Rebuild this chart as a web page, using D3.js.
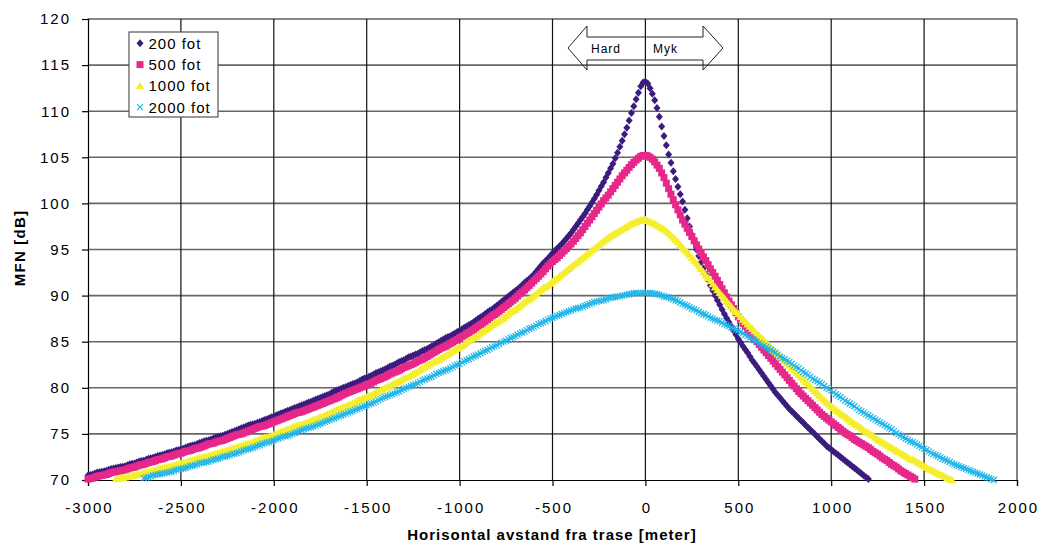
<!DOCTYPE html>
<html lang="no">
<head>
    <meta charset="utf-8">
    <title>MFN mot horisontal avstand fra trase</title>
    <style type="text/css">
        body {
            margin: 0;
            background: #ffffff;
            font-family: 'Liberation Sans', Arial, sans-serif;
        }
        .tick text {
            font-family: 'Liberation Sans', Arial, sans-serif;
            font-size: 15px;
            letter-spacing: 2px;
            fill: #000;
        }
        .axisTitle {
            font-family: 'Liberation Sans', Arial, sans-serif;
            font-weight: bold;
            font-size: 15px;
            fill: #000;
        }
        .legendText {
            font-size: 15px;
            letter-spacing: 1px;
        }
        .arrowText {
            font-size: 12px;
            letter-spacing: 1px;
        }
    </style>
</head>
<body style="width: 1042px; height: 545px;">
<script src="https://d3js.org/d3.v7.min.js"></script>
<script>
    // series names and where each series starts along the x axis (meter), 12.5 m between points
    var seriesNames = ['200 fot', '500 fot', '1000 fot', '2000 fot'];
    var seriesStart = [-3000, -3000, -2850, -2700];
    var stepMeter = 12.5;

    // MFN [dB]
    var mfn200 = [
        70.5, 70.55, 70.6, 70.7, 70.8, 70.85, 70.9, 70.95, 71.0, 71.1, 71.2, 71.25, 71.3, 71.35, 71.4, 71.45, 71.5, 71.6, 71.7, 71.75,
        71.8, 71.9, 72.0, 72.05, 72.1, 72.2, 72.3, 72.35, 72.4, 72.5, 72.6, 72.65, 72.7, 72.8, 72.9, 72.95, 73.0, 73.1, 73.2, 73.25,
        73.3, 73.4, 73.5, 73.6, 73.7, 73.75, 73.8, 73.9, 74.0, 74.1, 74.2, 74.25, 74.3, 74.4, 74.5, 74.6, 74.7, 74.75, 74.8, 74.9,
        75.0, 75.1, 75.2, 75.3, 75.4, 75.5, 75.6, 75.7, 75.8, 75.9, 76.0, 76.05, 76.1, 76.2, 76.3, 76.4, 76.5, 76.6, 76.7, 76.8,
        76.9, 77.0, 77.1, 77.2, 77.3, 77.4, 77.5, 77.6, 77.7, 77.8, 77.9, 78.0, 78.1, 78.2, 78.3, 78.4, 78.5, 78.6, 78.7, 78.8,
        78.9, 79.0, 79.1, 79.2, 79.3, 79.45, 79.6, 79.7, 79.8, 79.9, 80.0, 80.1, 80.2, 80.3, 80.4, 80.5, 80.6, 80.75, 80.9, 81.0,
        81.1, 81.2, 81.3, 81.45, 81.6, 81.7, 81.8, 81.9, 82.0, 82.15, 82.3, 82.4, 82.5, 82.65, 82.8, 82.9, 83.0, 83.15, 83.3, 83.4,
        83.5, 83.6, 83.7, 83.85, 84.0, 84.1, 84.2, 84.35, 84.5, 84.65, 84.8, 84.95, 85.1, 85.25, 85.4, 85.5, 85.6, 85.75, 85.9, 86.05,
        86.2, 86.35, 86.5, 86.65, 86.8, 86.95, 87.1, 87.3, 87.5, 87.65, 87.8, 88.0, 88.2, 88.35, 88.5, 88.7, 88.9, 89.1, 89.3, 89.5,
        89.7, 89.9, 90.1, 90.3, 90.5, 90.7, 90.9, 91.15, 91.4, 91.6, 91.8, 92.05, 92.3, 92.6, 92.9, 93.2, 93.5, 93.75, 94.0, 94.3,
        94.6, 94.85, 95.1, 95.35, 95.6, 95.9, 96.2, 96.5, 96.8, 97.15, 97.5, 97.85, 98.2, 98.55, 98.9, 99.3, 99.7, 100.1, 100.5, 100.95,
        101.4, 101.85, 102.3, 102.8, 103.3, 103.8, 104.3, 104.9, 105.5, 106.15, 106.8, 107.5, 108.2, 109.0, 109.8, 110.55, 111.3, 112.0, 112.7, 113.1,
        113.2, 113.0, 112.5, 111.9, 111.2, 110.35, 109.4, 108.35, 107.3, 106.3, 105.3, 104.4, 103.5, 102.65, 101.8, 101.0, 100.2, 99.3, 98.4, 97.5,
        96.6, 95.8, 95.0, 94.3, 93.6, 92.95, 92.3, 91.7, 91.1, 90.55, 90.0, 89.5, 89.0, 88.5, 88.0, 87.55, 87.1, 86.65, 86.2, 85.75,
        85.3, 84.9, 84.5, 84.15, 83.8, 83.4, 83.0, 82.65, 82.3, 81.95, 81.6, 81.25, 80.9, 80.55, 80.2, 79.85, 79.5, 79.2, 78.9, 78.6,
        78.3, 78.0, 77.7, 77.45, 77.2, 76.95, 76.7, 76.45, 76.2, 75.95, 75.7, 75.45, 75.2, 74.95, 74.7, 74.45, 74.2, 73.95, 73.7, 73.5,
        73.3, 73.1, 72.9, 72.7, 72.5, 72.3, 72.1, 71.9, 71.7, 71.5, 71.3, 71.1, 70.9, 70.7, 70.5, 70.3, 70.1];

    var mfn500 = [
        70.1, 70.15, 70.2, 70.3, 70.4, 70.45, 70.5, 70.55, 70.6, 70.7, 70.8, 70.85, 70.9, 70.95, 71.0, 71.05, 71.1, 71.2, 71.3, 71.35,
        71.4, 71.5, 71.6, 71.65, 71.7, 71.8, 71.9, 71.95, 72.0, 72.1, 72.2, 72.25, 72.3, 72.4, 72.5, 72.55, 72.6, 72.7, 72.8, 72.85,
        72.9, 73.0, 73.1, 73.15, 73.2, 73.3, 73.4, 73.45, 73.5, 73.6, 73.7, 73.8, 73.9, 73.95, 74.0, 74.1, 74.2, 74.25, 74.3, 74.4,
        74.5, 74.6, 74.7, 74.8, 74.9, 74.95, 75.0, 75.1, 75.2, 75.3, 75.4, 75.5, 75.6, 75.7, 75.8, 75.85, 75.9, 76.0, 76.1, 76.2,
        76.3, 76.4, 76.5, 76.6, 76.7, 76.8, 76.9, 77.0, 77.1, 77.2, 77.3, 77.35, 77.4, 77.5, 77.6, 77.7, 77.8, 77.9, 78.0, 78.1,
        78.2, 78.3, 78.4, 78.5, 78.6, 78.7, 78.8, 78.9, 79.0, 79.15, 79.3, 79.4, 79.5, 79.6, 79.7, 79.8, 79.9, 80.0, 80.1, 80.2,
        80.3, 80.4, 80.5, 80.65, 80.8, 80.9, 81.0, 81.1, 81.2, 81.35, 81.5, 81.6, 81.7, 81.8, 81.9, 82.05, 82.2, 82.3, 82.4, 82.5,
        82.6, 82.75, 82.9, 83.0, 83.1, 83.25, 83.4, 83.55, 83.7, 83.85, 84.0, 84.15, 84.3, 84.4, 84.5, 84.65, 84.8, 84.95, 85.1, 85.25,
        85.4, 85.55, 85.7, 85.85, 86.0, 86.15, 86.3, 86.5, 86.7, 86.85, 87.0, 87.2, 87.4, 87.6, 87.8, 87.95, 88.1, 88.3, 88.5, 88.7,
        88.9, 89.1, 89.3, 89.5, 89.7, 89.95, 90.2, 90.4, 90.6, 90.85, 91.1, 91.35, 91.6, 91.85, 92.1, 92.35, 92.6, 92.9, 93.2, 93.45,
        93.7, 93.9, 94.1, 94.35, 94.6, 94.85, 95.1, 95.35, 95.6, 95.9, 96.2, 96.5, 96.8, 97.15, 97.5, 97.85, 98.2, 98.55, 98.9, 99.25,
        99.6, 99.95, 100.3, 100.6, 100.9, 101.25, 101.6, 101.95, 102.3, 102.65, 103.0, 103.3, 103.6, 103.9, 104.2, 104.45, 104.7, 104.9, 105.1, 105.2,
        105.2, 105.15, 105.0, 104.8, 104.5, 104.15, 103.8, 103.3, 102.8, 102.2, 101.6, 101.0, 100.4, 99.85, 99.3, 98.75, 98.2, 97.75, 97.3, 96.85,
        96.4, 95.95, 95.5, 95.05, 94.6, 94.2, 93.8, 93.35, 92.9, 92.5, 92.1, 91.65, 91.2, 90.75, 90.3, 89.85, 89.4, 89.0, 88.6, 88.15,
        87.7, 87.35, 87.0, 86.65, 86.3, 85.95, 85.6, 85.3, 85.0, 84.7, 84.4, 84.1, 83.8, 83.5, 83.2, 82.9, 82.6, 82.3, 82.0, 81.7,
        81.4, 81.1, 80.8, 80.5, 80.2, 79.9, 79.6, 79.35, 79.1, 78.85, 78.6, 78.35, 78.1, 77.85, 77.6, 77.35, 77.1, 76.9, 76.7, 76.5,
        76.3, 76.1, 75.9, 75.7, 75.5, 75.3, 75.1, 74.95, 74.8, 74.6, 74.4, 74.25, 74.1, 73.95, 73.8, 73.65, 73.5, 73.3, 73.1, 72.95,
        72.8, 72.6, 72.4, 72.25, 72.1, 71.9, 71.7, 71.55, 71.4, 71.2, 71.0, 70.85, 70.7, 70.55, 70.4, 70.25, 70.1];

    var mfn1000 = [
        70.1, 70.15, 70.2, 70.25, 70.3, 70.35, 70.4, 70.45,
        70.5, 70.55, 70.6, 70.7, 70.8, 70.85, 70.9, 70.95, 71.0, 71.1, 71.2, 71.25, 71.3, 71.35, 71.4, 71.45, 71.5, 71.6, 71.7, 71.75,
        71.8, 71.85, 71.9, 72.0, 72.1, 72.15, 72.2, 72.3, 72.4, 72.45, 72.5, 72.55, 72.6, 72.7, 72.8, 72.85, 72.9, 73.0, 73.1, 73.15,
        73.2, 73.3, 73.4, 73.45, 73.5, 73.6, 73.7, 73.8, 73.9, 73.95, 74.0, 74.1, 74.2, 74.3, 74.4, 74.5, 74.6, 74.65, 74.7, 74.8,
        74.9, 75.0, 75.1, 75.2, 75.3, 75.4, 75.5, 75.6, 75.7, 75.8, 75.9, 75.95, 76.0, 76.1, 76.2, 76.3, 76.4, 76.5, 76.6, 76.7,
        76.8, 76.9, 77.0, 77.1, 77.2, 77.35, 77.5, 77.6, 77.7, 77.8, 77.9, 78.0, 78.1, 78.2, 78.3, 78.45, 78.6, 78.7, 78.8, 78.9,
        79.0, 79.1, 79.2, 79.35, 79.5, 79.6, 79.7, 79.85, 80.0, 80.1, 80.2, 80.35, 80.5, 80.6, 80.7, 80.85, 81.0, 81.1, 81.2, 81.35,
        81.5, 81.65, 81.8, 81.95, 82.1, 82.25, 82.4, 82.55, 82.7, 82.8, 82.9, 83.05, 83.2, 83.35, 83.5, 83.65, 83.8, 83.95, 84.1, 84.25,
        84.4, 84.55, 84.7, 84.9, 85.1, 85.25, 85.4, 85.55, 85.7, 85.9, 86.1, 86.25, 86.4, 86.6, 86.8, 86.95, 87.1, 87.25, 87.4, 87.6,
        87.8, 88.0, 88.2, 88.35, 88.5, 88.7, 88.9, 89.1, 89.3, 89.45, 89.6, 89.8, 90.0, 90.2, 90.4, 90.6, 90.8, 90.95, 91.1, 91.3,
        91.5, 91.7, 91.9, 92.1, 92.3, 92.5, 92.7, 92.9, 93.1, 93.3, 93.5, 93.7, 93.9, 94.1, 94.3, 94.5, 94.7, 94.9, 95.1, 95.3,
        95.5, 95.7, 95.9, 96.1, 96.3, 96.45, 96.6, 96.75, 96.9, 97.05, 97.2, 97.35, 97.5, 97.65, 97.8, 97.9, 98.0, 98.1, 98.2, 98.2,
        98.2, 98.1, 98.0, 97.9, 97.8, 97.65, 97.5, 97.35, 97.2, 97.0, 96.8, 96.55, 96.3, 96.05, 95.8, 95.5, 95.2, 94.95, 94.7, 94.4,
        94.1, 93.8, 93.5, 93.2, 92.9, 92.55, 92.2, 91.9, 91.6, 91.25, 90.9, 90.6, 90.3, 90.0, 89.7, 89.4, 89.1, 88.8, 88.5, 88.25,
        88.0, 87.7, 87.4, 87.15, 86.9, 86.65, 86.4, 86.15, 85.9, 85.65, 85.4, 85.15, 84.9, 84.65, 84.4, 84.15, 83.9, 83.65, 83.4, 83.15,
        82.9, 82.65, 82.4, 82.15, 81.9, 81.65, 81.4, 81.15, 80.9, 80.65, 80.4, 80.15, 79.9, 79.65, 79.4, 79.15, 78.9, 78.65, 78.4, 78.2,
        78.0, 77.8, 77.6, 77.4, 77.2, 77.05, 76.9, 76.7, 76.5, 76.3, 76.1, 75.95, 75.8, 75.6, 75.4, 75.25, 75.1, 74.95, 74.8, 74.6,
        74.4, 74.25, 74.1, 73.95, 73.8, 73.65, 73.5, 73.35, 73.2, 73.05, 72.9, 72.75, 72.6, 72.45, 72.3, 72.2, 72.1, 71.95, 71.8, 71.65,
        71.5, 71.35, 71.2, 71.1, 71.0, 70.85, 70.7, 70.6, 70.5, 70.35, 70.2, 70.1, 70.0];

    var mfn2000 = [
        70.2, 70.25, 70.3, 70.4, 70.5, 70.55, 70.6, 70.65, 70.7, 70.75, 70.8, 70.85, 70.9, 71.0, 71.1, 71.15,
        71.2, 71.25, 71.3, 71.4, 71.5, 71.55, 71.6, 71.7, 71.8, 71.85, 71.9, 71.95, 72.0, 72.1, 72.2, 72.25, 72.3, 72.4, 72.5, 72.55,
        72.6, 72.7, 72.8, 72.85, 72.9, 73.0, 73.1, 73.2, 73.3, 73.35, 73.4, 73.5, 73.6, 73.7, 73.8, 73.9, 74.0, 74.05, 74.1, 74.2,
        74.3, 74.4, 74.5, 74.6, 74.7, 74.75, 74.8, 74.9, 75.0, 75.1, 75.2, 75.3, 75.4, 75.5, 75.6, 75.65, 75.7, 75.8, 75.9, 76.0,
        76.1, 76.2, 76.3, 76.4, 76.5, 76.6, 76.7, 76.8, 76.9, 77.0, 77.1, 77.2, 77.3, 77.4, 77.5, 77.6, 77.7, 77.8, 77.9, 78.0,
        78.1, 78.2, 78.3, 78.4, 78.5, 78.65, 78.8, 78.9, 79.0, 79.1, 79.2, 79.3, 79.4, 79.5, 79.6, 79.75, 79.9, 80.0, 80.1, 80.2,
        80.3, 80.4, 80.5, 80.65, 80.8, 80.9, 81.0, 81.1, 81.2, 81.35, 81.5, 81.6, 81.7, 81.8, 81.9, 82.0, 82.1, 82.25, 82.4, 82.5,
        82.6, 82.75, 82.9, 83.0, 83.1, 83.25, 83.4, 83.5, 83.6, 83.75, 83.9, 84.0, 84.1, 84.25, 84.4, 84.5, 84.6, 84.75, 84.9, 85.0,
        85.1, 85.25, 85.4, 85.5, 85.6, 85.75, 85.9, 86.0, 86.1, 86.25, 86.4, 86.5, 86.6, 86.75, 86.9, 87.0, 87.1, 87.25, 87.4, 87.5,
        87.6, 87.7, 87.8, 87.9, 88.0, 88.1, 88.2, 88.3, 88.4, 88.5, 88.6, 88.65, 88.7, 88.8, 88.9, 89.0, 89.1, 89.2, 89.3, 89.35,
        89.4, 89.45, 89.5, 89.6, 89.7, 89.75, 89.8, 89.85, 89.9, 89.95, 90.0, 90.05, 90.1, 90.15, 90.2, 90.25, 90.3, 90.3, 90.3, 90.3,
        90.3, 90.3, 90.3, 90.25, 90.2, 90.15, 90.1, 90.0, 89.9, 89.85, 89.8, 89.7, 89.6, 89.5, 89.4, 89.25, 89.1, 89.0, 88.9, 88.75,
        88.6, 88.5, 88.4, 88.25, 88.1, 88.0, 87.9, 87.75, 87.6, 87.5, 87.4, 87.3, 87.2, 87.05, 86.9, 86.8, 86.7, 86.55, 86.4, 86.3,
        86.2, 86.05, 85.9, 85.75, 85.6, 85.45, 85.3, 85.15, 85.0, 84.85, 84.7, 84.55, 84.4, 84.25, 84.1, 83.95, 83.8, 83.6, 83.4, 83.25,
        83.1, 82.95, 82.8, 82.6, 82.4, 82.25, 82.1, 81.9, 81.7, 81.55, 81.4, 81.2, 81.0, 80.85, 80.7, 80.55, 80.4, 80.2, 80.0, 79.85,
        79.7, 79.5, 79.3, 79.15, 79.0, 78.8, 78.6, 78.45, 78.3, 78.15, 78.0, 77.8, 77.6, 77.45, 77.3, 77.15, 77.0, 76.85, 76.7, 76.55,
        76.4, 76.25, 76.1, 75.95, 75.8, 75.65, 75.5, 75.3, 75.1, 74.95, 74.8, 74.65, 74.5, 74.35, 74.2, 74.1, 74.0, 73.85, 73.7, 73.55,
        73.4, 73.25, 73.1, 72.95, 72.8, 72.7, 72.6, 72.45, 72.3, 72.2, 72.1, 71.95, 71.8, 71.7, 71.6, 71.5, 71.4, 71.3, 71.2, 71.1,
        71.0, 70.9, 70.8, 70.7, 70.6, 70.5, 70.4, 70.3, 70.2, 70.1, 70.0];

    var xTicks = [-3000, -2500, -2000, -1500, -1000, -500, 0, 500, 1000, 1500, 2000];
    var yTicks = [70, 75, 80, 85, 90, 95, 100, 105, 110, 115, 120];

    var allSeries = [mfn200, mfn500, mfn1000, mfn2000];
    var colors = ['#3b1c7e', '#e6288a', '#f4ee2e', '#1eb5ea'];
    var shapes = [
        'M0,-4L3.5,0L0,4L-3.5,0Z',      // diamond
        'M-3.5,-3.5h7v7h-7Z',           // square
        'M0,-4.2L4.2,3.2L-4.2,3.2Z',    // triangle
        'M-3,-3L3,3M-3,3L3,-3'          // x
    ];

    //plot area
    var plot = {left: 88, right: 1017, top: 19, bottom: 480};

    var svg = d3.select('body').append('svg')
        .attr('width', 1042)
        .attr('height', 545);

    var x = d3.scaleLinear().domain([-3000, 2000]).range([plot.left, plot.right]);
    var y = d3.scaleLinear().domain([70, 120]).range([plot.bottom, plot.top]);

    //grid
    svg.append('g').selectAll('line')
        .data(yTicks.slice(1))
        .join('line')
        .attr('x1', plot.left).attr('x2', plot.right)
        .attr('y1', function(d) { return y(d); })
        .attr('y2', function(d) { return y(d); })
        .attr('stroke', function(d) { return d === 120 ? '#111' : '#666'; })
        .attr('stroke-width', function(d) { return d === 120 ? 1.2 : 1.6; });

    svg.append('g').selectAll('line')
        .data(xTicks.slice(1))
        .join('line')
        .attr('x1', function(d) { return x(d); })
        .attr('x2', function(d) { return x(d); })
        .attr('y1', plot.top).attr('y2', plot.bottom)
        .attr('stroke', function(d) { return d === 2000 ? '#666' : '#111'; })
        .attr('stroke-width', function(d) { return d === 2000 ? 1.6 : 1.2; });

    //axes, plain hyphen for the minus sign
    var plain = function(d) { return String(d); };

    var yAxis = svg.append('g')
        .attr('transform', 'translate(' + plot.left + ',0)')
        .call(d3.axisLeft(y).tickValues(yTicks).tickSize(6).tickPadding(11).tickFormat(plain));

    var xAxis = svg.append('g')
        .attr('transform', 'translate(0,' + plot.bottom + ')')
        .call(d3.axisBottom(x).tickValues(xTicks).tickSize(6).tickPadding(16).tickFormat(plain));

    [yAxis, xAxis].forEach(function(a) {
        a.select('.domain').attr('stroke', '#000').attr('stroke-width', 1.2);
        a.selectAll('.tick line').attr('stroke', '#000').attr('stroke-width', 1.2);
        a.selectAll('.tick text').attr('font-family', null).attr('font-size', null);
    });
    // keep the trailing letter-space from shifting the x labels
    xAxis.selectAll('.tick text').attr('dx', '1px');

    //series
    allSeries.forEach(function(values, i) {
        var pts = values.map(function(v, j) {
            return {x: seriesStart[i] + j * stepMeter, y: v};
        });
        svg.append('g')
            .attr('class', 'series')
            .selectAll('path')
            .data(pts)
            .join('path')
            .attr('d', shapes[i])
            .attr('transform', function(d) {
                return 'translate(' + x(d.x) + ',' + y(d.y) + ')';
            })
            .attr('fill', i === 3 ? 'none' : colors[i])
            .attr('stroke', i === 3 ? colors[i] : 'none')
            .attr('stroke-width', 1.2);
    });

    //legend
    var legend = svg.append('g').attr('transform', 'translate(129,32)');
    legend.append('rect')
        .attr('width', 89).attr('height', 85)
        .attr('fill', '#fff')
        .attr('stroke', '#555')
        .attr('stroke-width', 1.2);

    seriesNames.forEach(function(name, i) {
        var row = legend.append('g').attr('transform', 'translate(0,' + (11.3 + i * 21.3) + ')');
        row.append('path')
            .attr('d', shapes[i])
            .attr('transform', 'translate(11,0)')
            .attr('fill', i === 3 ? 'none' : colors[i])
            .attr('stroke', i === 3 ? colors[i] : 'none')
            .attr('stroke-width', 1.2);
        row.append('text')
            .attr('class', 'legendText')
            .attr('x', 19.5)
            .attr('dy', '0.36em')
            .text(name);
    });

    //double arrow Hard / Myk
    svg.append('path')
        .attr('d', 'M568,48L587,26L587,37L703,37L703,26L723,48L703,70L703,60L587,60L587,70Z')
        .attr('fill', 'none')
        .attr('stroke', '#222')
        .attr('stroke-width', 1);
    svg.append('text').attr('class', 'arrowText').attr('x', 591).attr('y', 53).text('Hard');
    svg.append('text').attr('class', 'arrowText').attr('x', 653).attr('y', 53).text('Myk');

    //axis titles
    svg.append('text')
        .attr('class', 'axisTitle')
        .attr('text-anchor', 'middle')
        .attr('transform', 'translate(25,248) rotate(-90)')
        .style('letter-spacing', '1.2px')
        .text('MFN [dB]');

    svg.append('text')
        .attr('class', 'axisTitle')
        .attr('text-anchor', 'middle')
        .attr('x', 552)
        .attr('y', 540)
        .style('letter-spacing', '1px')
        .text('Horisontal avstand fra trase [meter]');
</script>
</body>
</html>
